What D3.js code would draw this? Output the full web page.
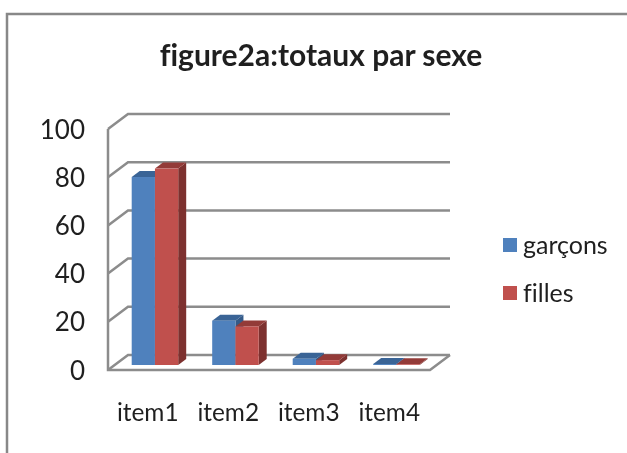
<!DOCTYPE html>
<html><head><meta charset="utf-8">
<script src="https://cdn.jsdelivr.net/npm/d3@7"></script>
<style>html,body{margin:0;padding:0;background:#fff}svg{display:block;filter:blur(0.5px)}text{font-family:Lato,"Open Sans",sans-serif;fill:#1f1f1f;font-variant-ligatures:none}</style>
</head><body><script>
const categories = ["item1","item2","item3","item4"];
const seriesNames = ["garçons","filles"];
const garcons = [78,18.4,2.6,0.4];
const filles = [81.5,16,2,0.3];
const yTicks = [0,20,40,60,80,100];
const titleText = "figure2a:totaux par sexe";
const colors = {front:["#4F81BD","#C0504D"],top:["#3A6496","#933B38"],side:["#345A88","#7D312F"]};

const svg = d3.select("body").append("svg").attr("width",627).attr("height",453);
const x = d3.scaleBand().domain(categories).range([108,430]);
const sub = d3.scaleBand().domain(seriesNames).range([0,46.5]);
const y = d3.scaleLinear().domain([0,100]).range([370,129]);
const dx = 20, dy = -15, bdx = 8, bdy = -6, baseUp = 5;
const grey = "#8c8c8c";

// frame
svg.append("path").attr("d","M7,453V14H627").attr("fill","none").attr("stroke","#888").attr("stroke-width",2.5);

// walls
const g = svg.append("g").attr("fill","none").attr("stroke",grey).attr("stroke-width",2.5);
yTicks.forEach(t=>{
  g.append("path").attr("d",`M${x.range()[0]},${y(t)}l${dx},${dy}H${x.range()[1]+dx}`);
});
g.append("path").attr("d",`M${x.range()[0]},${y(100)}V${y(0)}H${x.range()[1]}l${dx},${dy}`);

// bars
const seriesVals = [garcons,filles];
const inset = 23.7;
categories.forEach((c,i)=>{
  seriesNames.forEach((s,j)=>{
    const x0 = x(c)+inset+sub(s), w = sub.bandwidth();
    const y0 = y(0)-baseUp, h = y(0)-y(seriesVals[j][i]), t = y0-h;
    const b = svg.append("g");
    b.append("path").attr("fill",colors.side[j]).attr("d",`M${x0+w},${t}l${bdx},${bdy}V${y0+bdy}l${-bdx},${-bdy}Z`);
    b.append("path").attr("fill",colors.top[j]).attr("d",`M${x0},${t}l${bdx},${bdy}h${w}l${-bdx},${-bdy}Z`);
    b.append("rect").attr("x",x0).attr("y",t).attr("width",w).attr("height",h).attr("fill",colors.front[j]);
  });
});

// y labels
svg.selectAll(".yt").data(yTicks).join("text").attr("class","yt")
  .attr("x",85).attr("y",d=>y(d)+9.5).attr("text-anchor","end").attr("font-size",26).text(d=>d);
// x labels
svg.selectAll(".xt").data(categories).join("text").attr("class","xt")
  .attr("x",d=>x(d)+x.bandwidth()/2-0.5).attr("y",421).attr("text-anchor","middle").attr("font-size",24.4).text(d=>d);
// title
svg.append("text").attr("x",321).attr("y",66).attr("text-anchor","middle").attr("font-size",30).attr("font-weight",700).text(titleText);
// legend
const legY = d3.scalePoint().domain(seriesNames).range([245,293]);
seriesNames.forEach((s,j)=>{
  svg.append("rect").attr("x",503).attr("y",legY(s)-7).attr("width",14).attr("height",14).attr("fill",colors.front[j]);
  svg.append("text").attr("x",523).attr("y",legY(s)+8.5).attr("font-size",25).text(s);
});
</script></body></html>
